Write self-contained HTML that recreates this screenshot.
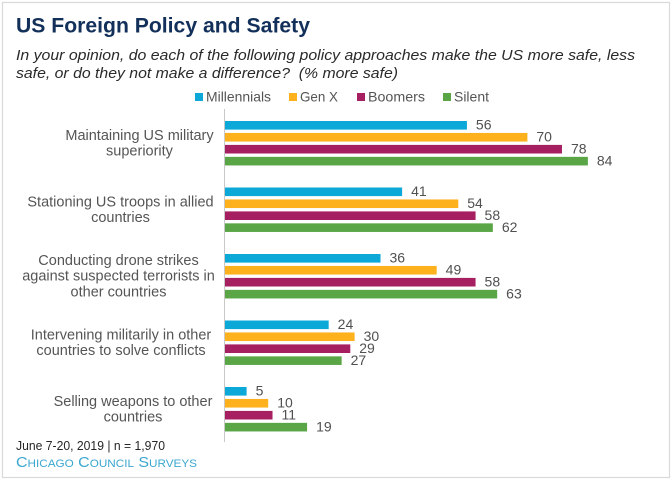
<!DOCTYPE html>
<html lang="en">
<head>
<meta charset="utf-8">
<title>US Foreign Policy and Safety</title>
<style>
html,body{margin:0;padding:0;background:#fff;width:672px;height:480px;overflow:hidden}
svg{display:block;font-family:"Liberation Sans",sans-serif}
</style>
</head>
<body>
<svg id="chart" xmlns="http://www.w3.org/2000/svg" width="672" height="480" viewBox="0 0 672 480">
  <rect x="2.5" y="2.5" width="667" height="475" fill="#fff" stroke="#d9d9d9" stroke-width="1.2"/>
  <text x="16" y="32.5" font-size="21" font-weight="bold" fill="#12305a" textLength="294" lengthAdjust="spacingAndGlyphs">US Foreign Policy and Safety</text>
  <text x="16" y="60" font-size="15" font-style="italic" fill="#2a2a2a" textLength="619" lengthAdjust="spacingAndGlyphs">In your opinion, do each of the following policy approaches make the US more safe, less</text>
  <text x="16" y="78" font-size="15" font-style="italic" fill="#2a2a2a" textLength="382" lengthAdjust="spacingAndGlyphs" xml:space="preserve">safe, or do they not make a difference?  (% more safe)</text>
  <g id="legend"></g>
  <g id="labels"></g>
  <g id="bars"></g>
  <line x1="224.5" y1="109" x2="224.5" y2="442" stroke="#c8c8c8" stroke-width="1"/>
  <text x="16" y="450" font-size="13" fill="#262626" textLength="149" lengthAdjust="spacingAndGlyphs">June 7-20, 2019 | n = 1,970</text>
  <text x="16" y="467" font-size="15" fill="#3ba6d0" style="font-variant:small-caps" textLength="181" lengthAdjust="spacingAndGlyphs">Chicago Council Surveys</text>
</svg>
<script>
const seriesNames = ['Millennials', 'Gen X', 'Boomers', 'Silent'];
const categoryLabels = [
  ['Maintaining US military', 'superiority'],
  ['Stationing US troops in allied', 'countries'],
  ['Conducting drone strikes', 'against suspected terrorists in', 'other countries'],
  ['Intervening militarily in other', 'countries to solve conflicts'],
  ['Selling weapons to other', 'countries']
];
const millennials = [56, 41, 36, 24, 5];
const genX = [70, 54, 49, 30, 10];
const boomers = [78, 58, 58, 29, 11];
const silent = [84, 62, 63, 27, 19];

const allSeries = [millennials, genX, boomers, silent];
const colors = ['#0ba8d8', '#fdb21d', '#a61f61', '#5aa646'];
const NS = 'http://www.w3.org/2000/svg';
const xScale = function (v) { return 225 + v * 4.32; };
const groupY = function (g) { return 121 + g * 66.5; };
const barY = function (g, s) { return groupY(g) + s * 11.95; };
const BAR_H = 8.6;

function make(tag, attrs, text) {
  const el = document.createElementNS(NS, tag);
  for (const k in attrs) el.setAttribute(k, attrs[k]);
  if (text !== undefined) el.textContent = text;
  return el;
}

const barsG = document.getElementById('bars');
allSeries.forEach(function (vals, s) {
  vals.forEach(function (v, g) {
    const bar = make('rect', {x: 225, y: barY(g, s), width: xScale(v) - 225, height: BAR_H, fill: colors[s]});
    
    
    barsG.appendChild(bar);
    const lab = make('text', {x: xScale(v) + 9, y: barY(g, s) + BAR_H / 2 + 4.3, 'font-size': 14, fill: '#505050'}, String(v));
    
    
    barsG.appendChild(lab);
  });
});

const labelCenters = [139.5, 120.5, 118.5, 121, 133];
const labelsG = document.getElementById('labels');
categoryLabels.forEach(function (lines, g) {
  const mid = groupY(g) + (3 * 11.95 + BAR_H) / 2;
  const lh = 15.7;
  const top = mid - (lines.length - 1) * lh / 2 + 4.5;
  lines.forEach(function (line, i) {
    const t = make('text', {x: labelCenters[g], y: top + i * lh, 'font-size': 14.5, fill: '#555', 'text-anchor': 'middle'}, line);
    
    
    labelsG.appendChild(t);
  });
});

const legendSwatchX = [195, 289, 357, 443];
const legendTextW = [65, 38, 57, 35];
const legendG = document.getElementById('legend');
seriesNames.forEach(function (name, i) {
  const sw = make('rect', {x: legendSwatchX[i], y: 93, width: 8, height: 8, fill: colors[i]});
  
  
  legendG.appendChild(sw);
  const t = make('text', {x: legendSwatchX[i] + 11, y: 101.5, 'font-size': 13.6, fill: '#555', textLength: legendTextW[i], lengthAdjust: 'spacingAndGlyphs'}, name);
  
  
  legendG.appendChild(t);
});
</script>
</body>
</html>
